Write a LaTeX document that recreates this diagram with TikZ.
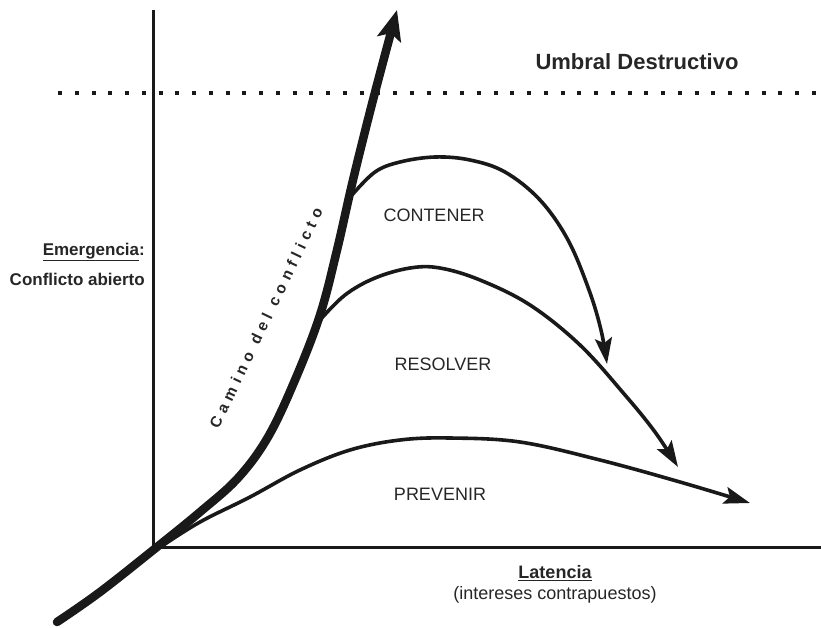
\documentclass[tikz,border=0pt]{standalone}
\usepackage{fontspec}
\setmainfont{Liberation Sans}
\newfontfamily\spacedfont[LetterSpace=34]{Liberation Sans}
\usetikzlibrary{arrows.meta}
\begin{document}
\begin{tikzpicture}[x=1pt,y=-1pt,
  axis/.style={line width=3pt, draw=black!90},
  mainpath/.style={line width=8.5pt, draw=black!90, line cap=round,
    -{Stealth[length=30pt,width=24pt,inset=6pt]}},
  branch/.style={line width=3.6pt, draw=black!90,
    -{Stealth[length=26pt,width=17pt,inset=5pt]}},
  lab/.style={font=\fontsize{18}{20}\selectfont, text=black!85, inner sep=0pt},
  blab/.style={font=\bfseries\fontsize{17}{19}\selectfont, text=black!85, inner sep=0pt}]
\useasboundingbox (0,0) rectangle (821,627);
% axes
\coordinate (ytop) at (153,10);
\coordinate (orig) at (153,547);
\coordinate (xend) at (821,547);
\draw[axis] (ytop) -- (orig) -- (xend);
% threshold
\coordinate (thA) at (58,93);
\coordinate (thB) at (816,93);
\draw[line width=4pt, dash pattern=on 4pt off 12.75pt, black!90] (thA) -- (thB);
\node[font=\bfseries\fontsize{22}{24}\selectfont, text=black!85, inner sep=0pt] (umbral) at (637,62) {Umbral Destructivo};
% branches
\draw[branch] plot[smooth, tension=0.6] coordinates {(352,195) (375,172) (400,162) (435,157) (470,160) (505,172) (540,200) (568,240) (589,290) (601,330) (607,364)};
\draw[branch] plot[smooth, tension=0.6] coordinates {(320,320) (345,295) (375,278) (410,268) (440,268) (480,280) (530,305) (580,345) (625,395) (655,432) (678,467)};
\draw[branch] plot[smooth, tension=0.6] coordinates {(162,546) (200,522) (250,497) (300,470) (350,450) (400,440) (450,438) (520,442) (600,460) (680,482) (750,503)};
% main path
\draw[mainpath] plot[smooth, tension=0.6] coordinates {(57,622) (100,592) (157,547) (200,512) (238,478) (268,437) (295,380) (320,315) (337,250) (353,180) (373,100) (397,10)};
% labels
\node[lab] (contener) at (434,215) {CONTENER};
\node[lab] (resolver) at (443,364) {RESOLVER};
\node[lab] (prevenir) at (440,494) {PREVENIR};
\node[font=\spacedfont\bfseries\fontsize{15.5}{17}\selectfont, text=black!85, rotate=64.4, inner sep=0pt] (camino) at (266,318) {Camino del conflicto};
\node[blab, anchor=east] (emerg) at (145,252) {\underline{Emergencia}:};
\node[blab, anchor=east] (abierto) at (145,279) {Conflicto abierto};
\node[blab, font=\bfseries\fontsize{18}{20}\selectfont] (latencia) at (555,573) {\underline{Latencia}};
\node[lab] (intereses) at (555,595) {(intereses contrapuestos)};
\end{tikzpicture}
\end{document}
